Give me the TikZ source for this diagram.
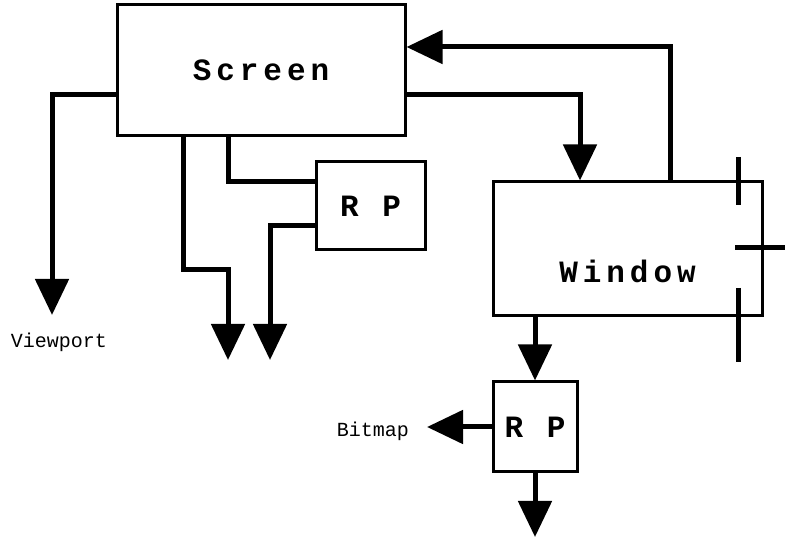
\documentclass[tikz,border=0pt]{standalone}
\usepackage{fontspec}
\setmonofont{Liberation Mono}
\newfontfamily\boxfont{Liberation Mono}[LetterSpace=16]
\usepackage{tikz}
\usetikzlibrary{arrows.meta}

\begin{document}
\begin{tikzpicture}[x=1pt, y=-1pt,
    box/.style={draw, line width=3pt, inner sep=0pt, font=\boxfont\bfseries\fontsize{31}{38}\selectfont},
    conn/.style={line width=5pt},
    arr/.style={conn, -{Triangle[length=36pt, width=33pt]}},
    tag/.style={font=\ttfamily\fontsize{20}{24}\selectfont}]
    \useasboundingbox (0,0) rectangle (788,537);

    % Boxes
    \node[box, minimum width=288pt, minimum height=131pt] (screen) at (261,70.5) {Screen};
    \node[box, minimum width=269pt, minimum height=134pt,
          label={[box, draw=none, yshift=-22pt]center:Window}] (window) at (627.5,249) {};
    \node[box, minimum width=109pt, minimum height=88pt] (rp1) at (370.5,206) {R P};
    \node[box, minimum width=84pt, minimum height=90pt] (rp2) at (535,427) {R P};

    % Labels and free ends
    \node[tag] (viewport) at (59,342) {Viewport};
    \node[tag] (bitmap) at (373,431) {Bitmap};
    \coordinate (vp) at (52,315);
    \coordinate (out1) at (228,360);
    \coordinate (out2) at (270,360);
    \coordinate (bm) at (427,427);
    \coordinate (down) at (535,537);

    % Screen
    \draw[arr] ([yshift=-24pt]screen.west) -| (vp);
    \draw[arr] ([xshift=-78pt]screen.south) -- (183,270) -| (out1);
    \draw[conn] ([xshift=-33pt]screen.south) |- ([yshift=24pt]rp1.west);
    \draw[arr] ([yshift=-24pt]screen.east) -| ([xshift=-47.5pt]window.north);

    % R P (top)
    \draw[arr] ([yshift=-20pt]rp1.west) -| (out2);

    % Window
    \draw[arr] ([xshift=42.5pt]window.north) |- ([yshift=23.5pt]screen.east);
    \draw[arr] (window.south -| rp2.north) -- (rp2.north);

    % Ticks
    \draw[conn] (738,157) -- (738,205);
    \draw[conn] (735,248) -- (785,248);
    \draw[conn] (738,288) -- (738,362);

    % R P (bottom)
    \draw[arr] (rp2.west) -- (bm);
    \draw[arr] (rp2.south) -- (down);
\end{tikzpicture}
\end{document}
